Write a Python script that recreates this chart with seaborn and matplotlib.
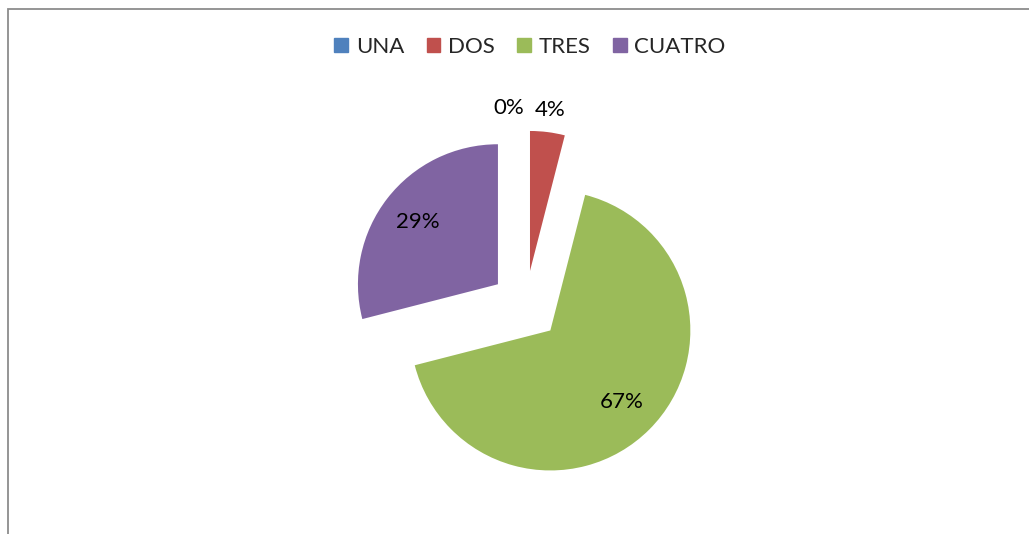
import numpy as np
import matplotlib
matplotlib.use("Agg")
import matplotlib.pyplot as plt
import matplotlib.patches as mpatches
import seaborn as sns

# data
categories = ['UNA', 'DOS', 'TRES', 'CUATRO']
shares = [0, 4, 67, 29]
colors = ['#4F81BD', '#C0504D', '#9BBB59', '#8064A2']

sns.set_theme(style='white')
plt.rcParams['font.family'] = ['Lato', 'DejaVu Sans']

W, H = 1029, 534
fig = plt.figure(figsize=(W / 100, H / 100), dpi=100)

# pie: radius 140px, center ~ (526, 306) from top-left
R = 140
cx, cy = 525.6, H - 305.7
half = 1.5 * R
ax = fig.add_axes([(cx - half) / W, (cy - half) / H, 2 * half / W, 2 * half / H])
ax.set_xlim(-1.5, 1.5)
ax.set_ylim(-1.5, 1.5)
ax.set_aspect('equal')
ax.axis('off')

wedges, texts, autotexts = ax.pie(
    shares, colors=colors, startangle=90, counterclock=False,
    explode=[0.25] * len(shares), autopct='%1.0f%%', pctdistance=0.72,
    wedgeprops=dict(linewidth=0), textprops=dict(fontsize=16, color='black'),
    radius=1, frame=False)
ax.set_xlim(-1.5, 1.5)
ax.set_ylim(-1.5, 1.5)

# small slices get their labels outside, like Excel does
for w, t in zip(wedges, autotexts):
    frac = (w.theta2 - w.theta1) / 360
    if frac < 0.1:
        mid = np.deg2rad((w.theta1 + w.theta2) / 2)
        x = w.center[0] + 1.16 * np.cos(mid)
        y = w.center[1] + 1.16 * np.sin(mid)
        t.set_position((x, y))
autotexts[0].set_position((-0.118, autotexts[0].get_position()[1]))

handles = [mpatches.Patch(color=c, label=l) for c, l in zip(colors, categories)]
fig.legend(handles=handles, loc='center', bbox_to_anchor=(530 / W, 1 - 47 / H),
           ncol=4, frameon=False, fontsize=16, handlelength=0.62, handleheight=0.62,
           handletextpad=0.35, columnspacing=1.0)

# chart area border (only top and left visible in the crop)
border = mpatches.Rectangle((8 / W, -0.2), 1.2, 1.2 - 9 / H + 0.0, transform=fig.transFigure,
                            fill=False, edgecolor='#8c8c8c', linewidth=1.3, clip_on=False)
fig.patches.append(border)

fig.savefig('out.png', dpi=100)
